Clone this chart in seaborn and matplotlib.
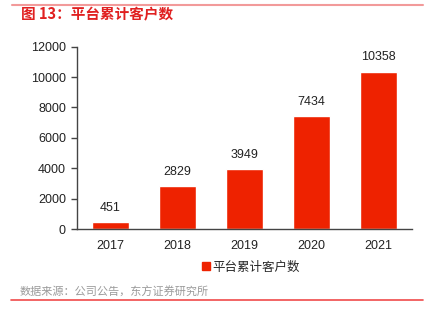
import matplotlib
matplotlib.use("Agg")
import matplotlib.pyplot as plt
import seaborn as sns
import pandas as pd
from matplotlib.lines import Line2D

years = ["2017", "2018", "2019", "2020", "2021"]
customers = [451, 2829, 3949, 7434, 10358]
series_name = "平台累计客户数"
title = "图 13：平台累计客户数"
source = "数据来源：公司公告，东方证券研究所"
yticks = [0, 2000, 4000, 6000, 8000, 10000, 12000]

sns.set_theme(style="white")
plt.rcParams['font.family'] = ['Liberation Sans', 'Noto Sans CJK SC', 'DejaVu Sans']

red = "#EE2200"
df = pd.DataFrame({"year": years, "value": customers})

fig = plt.figure(figsize=(4.25, 3.29), dpi=100)
ax = fig.add_axes([77/425, 1-229/329, 335/425, (229-46.7)/329])
sns.barplot(data=df, x="year", y="value", color=red, saturation=1, width=0.56, ax=ax)

ax.set_ylim(0, 12000)
ax.set_xlim(-0.5, len(years) - 0.5)
ax.set_yticks(yticks)
ax.set_yticklabels([str(v) for v in yticks], fontsize=9, color="#222222")
ax.set_xlabel("")
ax.set_ylabel("")
ax.tick_params(axis="x", which="major", length=0, labelsize=9, pad=8, labelcolor="#222222")
ax.set_xticks([i - 0.5 for i in range(len(years) + 1)], minor=True)
ax.tick_params(axis="x", which="minor", length=4, direction="out", color="#444444", width=1)
ax.tick_params(axis="y", length=4, direction="out", color="#444444", width=1, pad=4, left=True)
for s in ["top", "right"]:
    ax.spines[s].set_visible(False)
for s in ["left", "bottom"]:
    ax.spines[s].set_color("#444444")
    ax.spines[s].set_linewidth(1)

for c in ax.containers:
    ax.bar_label(c, labels=[str(v) for v in customers], padding=6, fontsize=9, color="#222222")

handle = Line2D([], [], marker="s", color=red, linestyle="none", markersize=6)
fig.legend([handle], [series_name], loc="center", bbox_to_anchor=(250/425, 1-267/329),
           frameon=False, handletextpad=0.1, handlelength=0.8,
           prop={'family': ['Noto Sans CJK SC', 'DejaVu Sans'], 'size': 9})

fig.text(21/425, 1-14/329, title, color="#E02020", fontsize=10.5, fontweight="bold",
         va="center", ha="left", family=['Noto Sans CJK SC', 'DejaVu Sans'])
fig.text(20/425, 1-292/329, source, color="#9A9A9A", fontsize=8,
         va="center", ha="left", family=['Noto Sans CJK SC', 'DejaVu Sans'])

fig.add_artist(Line2D([12/425, 423/425], [1-5/329, 1-5/329], color="#F29A9A", lw=1.5))
fig.add_artist(Line2D([11/425, 423/425], [1-300/329, 1-300/329], color="#F04A4A", lw=1.2))

fig.savefig("out.png", dpi=100)
